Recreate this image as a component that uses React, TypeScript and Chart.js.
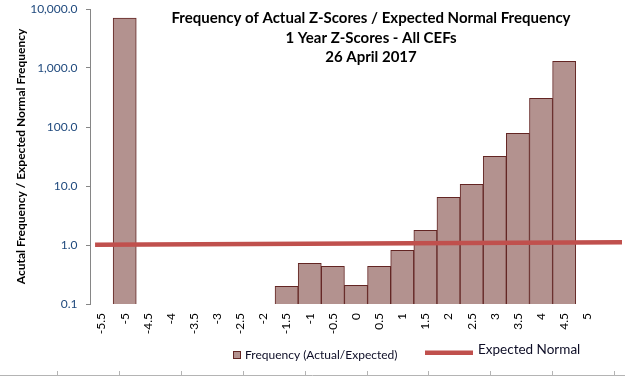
import { useEffect, useRef } from 'react';
import { Chart, registerables } from 'chart.js';

Chart.register(...registerables);

// ---- data ----
const zScores = [-5, -1.5, -1, -0.5, 0, 0.5, 1, 1.5, 2, 2.5, 3, 3.5, 4, 4.5];
const frequencyRatio = [7000, 0.2, 0.49, 0.435, 0.207, 0.435, 0.81, 1.77, 6.4, 10.7, 31.9, 78, 306, 1300];
const expectedX = [-5.64, 5.75];
const expectedY = [1.01, 1.11];
const xTickValues = [-5.5, -5, -4.5, -4, -3.5, -3, -2.5, -2, -1.5, -1, -0.5, 0, 0.5, 1, 1.5, 2, 2.5, 3, 3.5, 4, 4.5, 5];
const yTickValues = [0.1, 1, 10, 100, 1000, 10000];
const titleLines = [
  'Frequency of Actual Z-Scores / Expected Normal Frequency',
  '1 Year Z-Scores - All CEFs',
  '26 April 2017',
];
const yAxisTitle = 'Acutal Frequency / Expected Normal Frequency';
const barLabel = 'Frequency (Actual/Expected)';
const lineLabel = 'Expected Normal';

const FONT = 'Lato, "Noto Sans", sans-serif';
const BAR_FILL = '#B3928F';
const BAR_BORDER = '#632523';
const LINE_COLOR = '#C0504D';

const zeroPad = () => ({ left: 0, top: 0, right: 0, bottom: 0 });

const titlePlugin = {
  id: 'customTitle',
  afterDraw(chart: any) {
    const ctx = chart.ctx;
    ctx.save();
    ctx.font = `bold 15px ${FONT}`;
    ctx.fillStyle = '#000000';
    ctx.textAlign = 'center';
    ctx.textBaseline = 'middle';
    const ys = [18.5, 38.5, 57];
    titleLines.forEach((t, i) => ctx.fillText(t, 371, ys[i]));
    ctx.restore();
  },
};

const legendPlugin = {
  id: 'customLegend',
  afterDraw(chart: any) {
    const ctx = chart.ctx;
    const ds = chart.data.datasets;
    const bar = ds.find((d: any) => d.type === 'bar');
    const line = ds.find((d: any) => d.type === 'line');
    ctx.save();
    ctx.fillStyle = bar.backgroundColor;
    ctx.fillRect(233, 351, 7, 7);
    ctx.strokeStyle = bar.borderColor;
    ctx.lineWidth = 1;
    ctx.strokeRect(233.5, 351.5, 7, 7);
    ctx.fillStyle = '#0d0d26';
    ctx.font = `12px ${FONT}`;
    ctx.textBaseline = 'middle';
    ctx.textAlign = 'left';
    ctx.fillText(bar.label, 245, 355.5);
    ctx.strokeStyle = line.borderColor;
    ctx.lineWidth = 4.5;
    ctx.beginPath();
    ctx.moveTo(425, 352.7);
    ctx.lineTo(473, 352.7);
    ctx.stroke();
    ctx.font = `13.5px ${FONT}`;
    ctx.fillText(line.label, 478, 350);
    ctx.strokeStyle = '#B4B4B4';
    ctx.lineWidth = 1;
    ctx.beginPath();
    ctx.moveTo(0, 375.5);
    ctx.lineTo(625, 375.5);
    for (let x = 57; x < 625; x += 61.9) {
      const px = Math.round(x) + 0.5;
      ctx.moveTo(px, 371);
      ctx.lineTo(px, 375.5);
    }
    ctx.stroke();
    ctx.restore();
  },
};

export default function App() {
  const ref = useRef<HTMLCanvasElement | null>(null);

  useEffect(() => {
    if (!ref.current) return;
    const chart = new Chart(ref.current, {
      data: {
        datasets: [
          {
            type: 'line',
            label: lineLabel,
            data: expectedX.map((x, i) => ({ x, y: expectedY[i] })),
            borderColor: LINE_COLOR,
            backgroundColor: LINE_COLOR,
            borderWidth: 4.5,
            pointRadius: 0,
            order: 0,
          } as any,
          {
            type: 'bar',
            label: barLabel,
            data: zScores.map((x, i) => ({ x, y: frequencyRatio[i] })),
            backgroundColor: BAR_FILL,
            borderColor: BAR_BORDER,
            borderWidth: 1,
            barPercentage: 1,
            categoryPercentage: 1,
            order: 1,
          } as any,
        ],
      },
      options: {
        responsive: false,
        animation: false,
        devicePixelRatio: 1,
        layout: { padding: { left: 0, top: 9, right: 3, bottom: 0 } },
        plugins: {
          legend: { display: false },
          title: { display: false },
          tooltip: { enabled: false },
        },
        scales: {
          x: {
            type: 'linear',
            offset: false,
            min: -5.75,
            max: 5.75,
            grid: { display: false, drawTicks: false, offset: false },
            border: { display: false },
            afterBuildTicks: (scale: any) => {
              scale.ticks = xTickValues.map((v) => ({ value: v }));
            },
            afterFit: (scale: any) => {
              scale.height = 74;
              scale.paddingLeft = 0;
              scale.paddingRight = 0;
              scale.getPadding = zeroPad;
            },
            ticks: {
              autoSkip: false,
              minRotation: 90,
              maxRotation: 90,
              padding: 9,
              color: '#000000',
              font: { family: FONT, size: 12 },
              callback: (v: any) => String(v),
            },
          },
          y: {
            type: 'logarithmic',
            min: 0.1,
            max: 10000,
            grid: { display: true, drawOnChartArea: false, drawTicks: true, tickLength: 4, color: '#868686' },
            border: { display: true, color: '#868686', width: 1 },
            afterBuildTicks: (scale: any) => {
              scale.ticks = yTickValues.map((v) => ({ value: v }));
            },
            afterFit: (scale: any) => {
              scale.width = 90;
              scale.paddingTop = 0;
              scale.paddingBottom = 0;
              scale.getPadding = zeroPad;
            },
            ticks: {
              padding: 8.5,
              color: '#1F497D',
              font: { family: FONT, size: 12 },
              callback: (v: any) =>
                Number(v).toLocaleString('en-US', { minimumFractionDigits: 1, maximumFractionDigits: 1 }),
            },
            title: {
              display: true,
              text: yAxisTitle,
              color: '#000000',
              font: { family: FONT, size: 12, weight: 'bold' },
              padding: { top: 14, bottom: 0 },
            },
          },
        },
      } as any,
      plugins: [titlePlugin, legendPlugin],
    });
    return () => chart.destroy();
  }, []);

  return (
    <div style={{ position: 'fixed', left: 0, top: 0, width: 625, height: 378, background: '#ffffff' }}>
      <canvas ref={ref} width={625} height={378} style={{ display: 'block', width: 625, height: 378 }} />
    </div>
  );
}
